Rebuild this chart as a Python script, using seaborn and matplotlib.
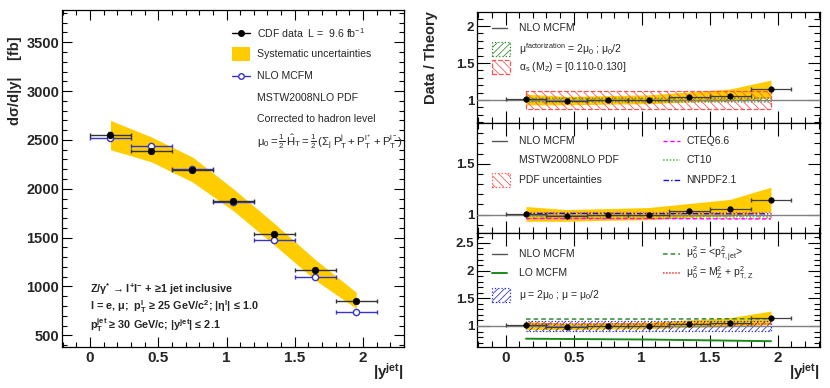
import numpy as np
import pandas as pd
import matplotlib
matplotlib.use("Agg")
import matplotlib.pyplot as plt
import seaborn as sns
from matplotlib.ticker import MultipleLocator
from matplotlib.lines import Line2D
from matplotlib.patches import Rectangle

# ---------------- data ----------------
bin_centers = [0.15, 0.45, 0.75, 1.05, 1.35, 1.65, 1.95]
bin_halfwidth = [0.15, 0.15, 0.15, 0.15, 0.15, 0.15, 0.15]

data_xsec = [2548, 2391, 2193, 1870, 1534, 1166, 846]
data_err = [30, 30, 25, 25, 22, 20, 18]
nlo_xsec = [2521, 2439, 2198, 1866, 1473, 1095, 739]
syst_lo = [2400, 2275, 2070, 1775, 1425, 1065, 775]
syst_hi = [2700, 2530, 2325, 2000, 1645, 1275, 940]

ratio_data = [1.01, 0.985, 0.995, 1.00, 1.04, 1.06, 1.145]
ratio_err = [0.012, 0.012, 0.012, 0.012, 0.012, 0.012, 0.015]
ratio_syst_lo = [0.935, 0.935, 0.945, 0.95, 0.975, 0.985, 1.03]
ratio_syst_hi = [1.08, 1.05, 1.06, 1.07, 1.11, 1.15, 1.27]

fact_lo = [0.975, 0.975, 0.975, 0.975, 0.975, 0.975, 0.975]
fact_hi = [1.025, 1.025, 1.025, 1.025, 1.025, 1.028, 1.03]
alphas_lo = [0.875, 0.875, 0.875, 0.875, 0.875, 0.875, 0.875]
alphas_hi = [1.125, 1.125, 1.125, 1.125, 1.125, 1.125, 1.125]

pdf_lo = [0.97, 0.97, 0.97, 0.97, 0.97, 0.97, 0.97]
pdf_hi = [1.03, 1.03, 1.03, 1.03, 1.03, 1.03, 1.03]
cteq66 = [0.962, 0.962, 0.962, 0.962, 0.96, 0.958, 0.958]
ct10 = [0.985, 0.985, 0.985, 0.985, 0.985, 0.982, 0.982]
nnpdf21 = [1.012, 1.012, 1.012, 1.01, 1.01, 1.008, 1.008]

scale_lo = [0.915, 0.915, 0.915, 0.915, 0.915, 0.915, 0.915]
scale_hi = [1.095, 1.095, 1.095, 1.095, 1.095, 1.095, 1.095]
mu_ptjet = [1.125, 1.125, 1.125, 1.125, 1.127, 1.13, 1.13]
mu_mzptz = [1.03, 1.03, 1.03, 1.03, 1.03, 1.03, 1.03]
lo_mcfm = [0.77, 0.765, 0.76, 0.755, 0.745, 0.735, 0.725]

xticks = [0, 0.5, 1, 1.5, 2]
xtick_labels = ["0", "0.5", "1", "1.5", "2"]

# ---------------- style ----------------
sns.set_theme(style="ticks")
plt.rcParams["font.family"] = ["Liberation Sans", "DejaVu Sans"]
plt.rcParams["mathtext.fontset"] = "custom"
plt.rcParams["mathtext.rm"] = "Liberation Sans"
plt.rcParams["mathtext.it"] = "Liberation Sans"
plt.rcParams["mathtext.bf"] = "Liberation Sans:bold"
plt.rcParams["mathtext.default"] = "rm"
plt.rcParams["hatch.linewidth"] = 0.55

W, H = 830, 388
fig = plt.figure(figsize=(W / 100, H / 100), dpi=100)


def fx(x):
    return x / W


def fy(y):
    return 1 - y / H


def axes_px(x0, y0, x1, y1):
    return fig.add_axes([fx(x0), fy(y1), fx(x1) - fx(x0), fy(y0) - fy(y1)])


YELLOW = "#ffcc00"
BLUE = "#3535c8"
RED = "#ff3030"
RED_H = "#ff5050"


def root_ticks(ax, ymaj, ymin, lmaj, lmin, ysize, yticks=None, xsize=11, xlabels=True):
    ax.xaxis.set_minor_locator(MultipleLocator(0.1))
    ax.yaxis.set_minor_locator(MultipleLocator(ymin))
    ax.tick_params(which="both", direction="in", top=True, right=True,
                   width=0.8, color="black")
    ax.tick_params(which="major", length=lmaj)
    ax.tick_params(which="minor", length=lmin)
    ax.tick_params(axis="y", labelsize=ysize, pad=2)
    ax.tick_params(axis="x", labelsize=xsize, pad=3)
    ax.set_xticks(xticks, labels=xtick_labels if xlabels else [""] * len(xticks),
                  fontweight="bold")
    ax.set_yticks(yticks, labels=[("%g" % v) for v in yticks], fontweight="bold")
    for s in ax.spines.values():
        s.set_visible(True)
        s.set_linewidth(0.9)
        s.set_color("black")


# ---------------- left panel ----------------
axL = axes_px(62, 10, 404, 347)
axL.fill_between(bin_centers, syst_lo, syst_hi, color=YELLOW, lw=0, zorder=1)
axL.errorbar(bin_centers, nlo_xsec, xerr=bin_halfwidth, fmt="none",
             ecolor=BLUE, elinewidth=1.0, capsize=1.5, zorder=2)
axL.errorbar(bin_centers, data_xsec, xerr=bin_halfwidth, yerr=data_err,
             fmt="none", ecolor="#333333", elinewidth=1.0, capsize=1.5, zorder=3)
sns.scatterplot(x=bin_centers, y=nlo_xsec, ax=axL, marker="o", s=20,
                color="white", edgecolor=BLUE, linewidth=1.0, zorder=4)
sns.scatterplot(x=bin_centers, y=data_xsec, ax=axL, marker="o", s=22,
                color="black", edgecolor="black", linewidth=0.5, zorder=5)
axL.set_xlim(-0.205, 2.30)
axL.set_ylim(380, 3830)
root_ticks(axL, 500, 100, 7, 3.5, 10.5, yticks=[500, 1000, 1500, 2000, 2500, 3000, 3500])
axL.set_xlabel("")
axL.set_ylabel("")

# left legend (manual)
lx0, lx1, ltx = 232, 250, 257
fig.add_artist(Line2D([fx(lx0), fx(lx1)], [fy(33), fy(33)], color="black",
                      lw=1.0, transform=fig.transFigure))
fig.add_artist(Line2D([fx(241)], [fy(33)], color="black", marker="o",
                      markersize=4, lw=0, transform=fig.transFigure))
fig.add_artist(Rectangle((fx(lx0), fy(61)), fx(lx1) - fx(lx0), fy(47) - fy(61),
                         facecolor=YELLOW, edgecolor="none",
                         transform=fig.transFigure))
fig.add_artist(Line2D([fx(lx0), fx(lx1)], [fy(76), fy(76)], color=BLUE,
                      lw=1.0, transform=fig.transFigure))
fig.add_artist(Line2D([fx(241)], [fy(76)], color=BLUE, marker="o",
                      markersize=4, markerfacecolor="white", lw=0,
                      transform=fig.transFigure))
leg_fs = 7.6
fig.text(fx(ltx), fy(33), r"CDF data  L =  9.6 fb$^{-1}$", fontsize=leg_fs, va="center")
fig.text(fx(ltx), fy(54), "Systematic uncertainties", fontsize=leg_fs, va="center")
fig.text(fx(ltx), fy(76), "NLO MCFM", fontsize=leg_fs, va="center")
fig.text(fx(ltx), fy(98), "MSTW2008NLO PDF", fontsize=leg_fs, va="center")
fig.text(fx(ltx), fy(119), "Corrected to hadron level", fontsize=leg_fs, va="center")
fig.text(fx(ltx), fy(142),
         r"$\mu_0 = \frac{1}{2}\,\hat{H}_T = \frac{1}{2}\,(\Sigma_j\;P^j_T + P^{l^+}_T + P^{l^-}_T)$",
         fontsize=8.2, va="center")

# bottom-left bold text
bfs = 7.8
fig.text(fx(90), fy(289), r"Z/γ$^{\mathbf{*}}$ → l$^{\mathbf{+}}$l$^{\mathbf{-}}$ + ≥1 jet inclusive",
         fontsize=bfs, fontweight="bold", va="center")
fig.text(fx(90), fy(307), r"l = e, μ;  p$^{\mathbf{l}}_{\mathbf{T}}$ ≥ 25 GeV/c$^{\mathbf{2}}$; |η$^{\mathbf{l}}$| ≤ 1.0",
         fontsize=bfs, fontweight="bold", va="center")
fig.text(fx(90), fy(325), r"p$^{\mathbf{jet}}_{\mathbf{T}}$ ≥ 30 GeV/c; |y$^{\mathbf{jet}}$| ≤ 2.1",
         fontsize=bfs, fontweight="bold", va="center")

# axis titles
fig.text(fx(15), fy(36), "dσ/d|y|    [fb]", rotation=90, fontsize=10.5,
         fontweight="bold", ha="center", va="top")
fig.text(fx(404), fy(372), r"|y$^{\mathbf{jet}}$|", fontsize=11,
         fontweight="bold", ha="right", va="center")
fig.text(fx(820), fy(372), r"|y$^{\mathbf{jet}}$|", fontsize=11,
         fontweight="bold", ha="right", va="center")
fig.text(fx(431), fy(11), "Data / Theory", rotation=90, fontsize=10.5,
         fontweight="bold", ha="center", va="top")

# ---------------- right panels ----------------
axT = axes_px(477, 12, 820, 123)
axM = axes_px(477, 123, 820, 233)
axB = axes_px(477, 233, 820, 347)


def ratio_common(ax):
    ax.fill_between(bin_centers, ratio_syst_lo, ratio_syst_hi, color=YELLOW,
                    lw=0, zorder=1)


def ratio_points(ax):
    ax.axhline(1.0, color="#808080", lw=1.0, zorder=4)
    ax.errorbar(bin_centers, ratio_data, xerr=bin_halfwidth, yerr=ratio_err,
                fmt="none", ecolor="#404040", elinewidth=0.9, capsize=1.2, zorder=5)
    sns.scatterplot(x=bin_centers, y=ratio_data, ax=ax, marker="o", s=16,
                    color="black", edgecolor="black", linewidth=0.4, zorder=6)
    ax.set_xlim(-0.21, 2.31)
    ax.set_xlabel("")
    ax.set_ylabel("")


# top: scale / alpha_s
ratio_common(axT)
axT.fill_between(bin_centers, fact_lo, fact_hi, facecolor="none",
                 edgecolor="#2e8b2e", hatch="/////", lw=0.9, ls=":", zorder=2)
axT.fill_between(bin_centers, alphas_lo, alphas_hi, facecolor="none",
                 edgecolor=RED_H, hatch="\\\\\\\\", lw=0.9, ls="--", zorder=3)
ratio_points(axT)
axT.set_ylim(0.69, 2.19)
root_ticks(axT, 0.5, 0.1, 9, 4.5, 9.5, yticks=[1, 1.5, 2], xlabels=False)

# middle: PDFs
ratio_common(axM)
axM.fill_between(bin_centers, pdf_lo, pdf_hi, facecolor="none",
                 edgecolor=RED_H, hatch="\\\\\\\\", lw=0.9, ls=":", zorder=2)
sns.lineplot(x=bin_centers, y=cteq66, ax=axM, color="#ff00ff", lw=1.0,
             linestyle=(0, (3, 2)), zorder=3)
sns.lineplot(x=bin_centers, y=ct10, ax=axM, color="#55cc55", lw=1.2,
             linestyle=(0, (1, 1)), zorder=3)
sns.lineplot(x=bin_centers, y=nnpdf21, ax=axM, color="#1515cc", lw=1.0,
             linestyle=(0, (4, 1.5, 1, 1.5)), zorder=3)
ratio_points(axM)
axM.set_ylim(0.82, 1.90)
root_ticks(axM, 0.5, 0.1, 9, 4.5, 9.5, yticks=[1, 1.5], xlabels=False)

# bottom: scale choices
ratio_common(axB)
axB.fill_between(bin_centers, scale_lo, scale_hi, facecolor="none",
                 edgecolor="#2b2bd0", hatch="/////", lw=0.9, ls=":", zorder=2)
sns.lineplot(x=bin_centers, y=mu_ptjet, ax=axB, color="#2e8b2e", lw=1.1,
             linestyle=(0, (3, 2)), zorder=3)
sns.lineplot(x=bin_centers, y=mu_mzptz, ax=axB, color=RED, lw=1.1,
             linestyle=(0, (1, 1)), zorder=3)
sns.lineplot(x=bin_centers, y=lo_mcfm, ax=axB, color="#1a8a1a", lw=1.4,
             zorder=3)
ratio_points(axB)
axB.set_ylim(0.62, 2.68)
root_ticks(axB, 0.5, 0.1, 9, 4.5, 9.5, yticks=[1, 1.5, 2, 2.5])

# right legends (manual)
rfs = 7.5
hx0, hx1, htx = 492, 510, 519
cx0, cx1, ctx = 663, 680, 686


def leg_line(x0, x1, y, **kw):
    fig.add_artist(Line2D([fx(x0), fx(x1)], [fy(y), fy(y)],
                          transform=fig.transFigure, **kw))


def leg_box(x0, x1, y, ec, hatch, ls):
    fig.add_artist(Rectangle((fx(x0), fy(y + 7)), fx(x1) - fx(x0), fy(y - 7) - fy(y + 7),
                             facecolor="none", edgecolor=ec, hatch=hatch, lw=0.9,
                             ls=ls, transform=fig.transFigure))


# top legend
leg_line(hx0, hx0 + 15, 28, color="#555555", lw=1.0)
fig.text(fx(htx), fy(28), "NLO MCFM", fontsize=rfs, va="center")
leg_box(hx0, hx1, 49, "#2e8b2e", "/////", ":")
fig.text(fx(htx), fy(49), r"$\mu^{factorization}$ = 2$\mu_0$ ; $\mu_0$/2", fontsize=rfs, va="center")
leg_box(hx0, hx1, 67, RED_H, "\\\\\\\\", "--")
fig.text(fx(htx), fy(67), r"$\alpha_s$ (M$_Z$) = [0.110-0.130]", fontsize=rfs, va="center")

# middle legend
leg_line(hx0, hx0 + 15, 141, color="#555555", lw=1.0)
fig.text(fx(htx), fy(141), "NLO MCFM", fontsize=rfs, va="center")
fig.text(fx(htx), fy(160), "MSTW2008NLO PDF", fontsize=rfs, va="center")
leg_box(hx0, hx1, 180, RED_H, "\\\\\\\\", ":")
fig.text(fx(htx), fy(180), "PDF uncertainties", fontsize=rfs, va="center")
leg_line(cx0, cx1, 141, color="#ff00ff", lw=1.0, ls=(0, (3, 2)))
fig.text(fx(ctx), fy(141), "CTEQ6.6", fontsize=rfs, va="center")
leg_line(cx0, cx1, 160, color="#55cc55", lw=1.2, ls=(0, (1, 1)))
fig.text(fx(ctx), fy(160), "CT10", fontsize=rfs, va="center")
leg_line(cx0, cx1, 180, color="#1515cc", lw=1.0, ls=(0, (4, 1.5, 1, 1.5)))
fig.text(fx(ctx), fy(180), "NNPDF2.1", fontsize=rfs, va="center")

# bottom legend
leg_line(hx0, hx0 + 15, 254, color="#555555", lw=1.0)
fig.text(fx(htx), fy(254), "NLO MCFM", fontsize=rfs, va="center")
leg_line(hx0, hx0 + 15, 273, color="#1a8a1a", lw=1.4)
fig.text(fx(htx), fy(273), "LO MCFM", fontsize=rfs, va="center")
leg_box(hx0, hx1, 295, "#2b2bd0", "/////", ":")
fig.text(fx(htx), fy(295), r"$\mu$ = 2$\mu_0$ ; $\mu$ = $\mu_0$/2", fontsize=rfs, va="center")
leg_line(cx0, cx1, 254, color="#2e8b2e", lw=1.1, ls=(0, (3, 2)))
fig.text(fx(ctx), fy(254), r"$\mu_0^2$ = <p$^2_{T,jet}$>", fontsize=rfs, va="center")
leg_line(cx0, cx1, 273, color=RED, lw=1.1, ls=(0, (1, 1)))
fig.text(fx(ctx), fy(273), r"$\mu_0^2$ = M$_Z^2$ + p$^2_{T,Z}$", fontsize=rfs, va="center")

fig.savefig("out.png", dpi=100)
